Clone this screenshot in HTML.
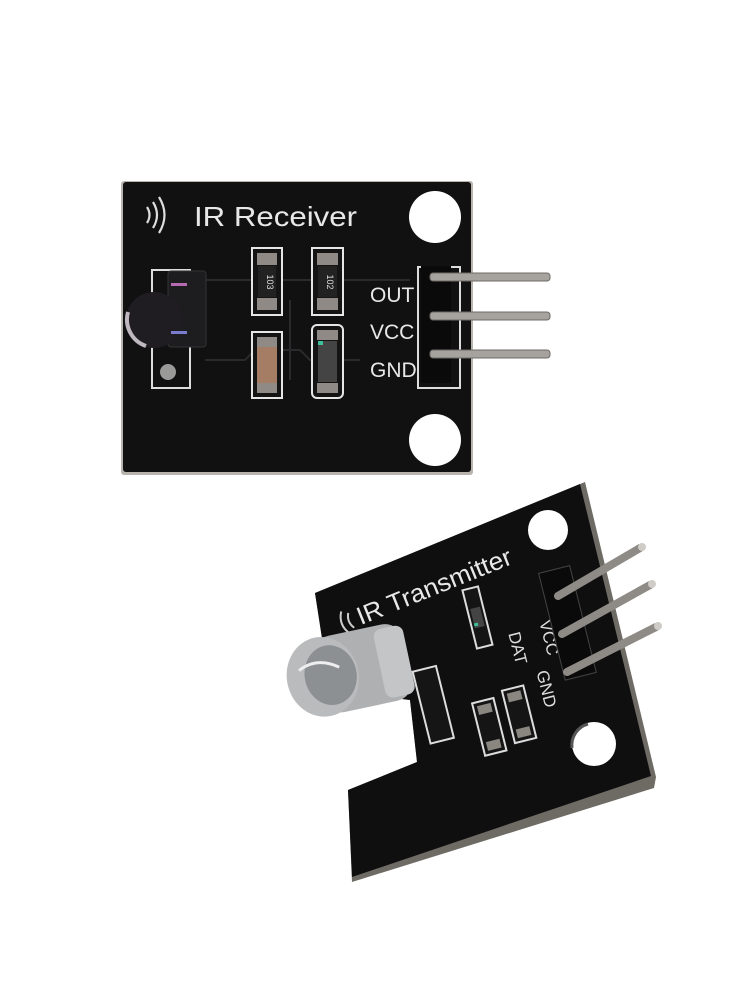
<!DOCTYPE html>
<html><head><meta charset="utf-8"><style>
html,body{margin:0;padding:0;background:#fff;}
svg{display:block;}
text{font-family:"Liberation Sans",sans-serif;}
</style></head><body>
<svg width="750" height="1000" viewBox="0 0 750 1000" xmlns="http://www.w3.org/2000/svg">
<rect width="750" height="1000" fill="#fff"/>
<!-- Receiver board -->
<rect x="121" y="181" width="352" height="294" rx="3" fill="#b9b4ad"/>
<rect x="123" y="182" width="348" height="290" rx="3" fill="#111112"/>
<circle cx="435" cy="217" r="26" fill="#fff"/>
<circle cx="435" cy="440" r="26" fill="#fff"/>
<g fill="none" stroke="#ddd" stroke-width="2.2">
<path d="M147 207 q5 8 0 16"/><path d="M153 202 q8 13 0 26"/><path d="M159 197 q11 18 0 36"/>
</g>
<text x="194" y="226" font-size="28" fill="#e8e8e8" textLength="163" lengthAdjust="spacingAndGlyphs">IR Receiver</text>
<g fill="none" stroke="#2a2a2c" stroke-width="2">
<path d="M205 280 H410"/><path d="M205 360 H245 l10 -10 H300 l10 10 H360"/><path d="M290 300 v80"/>
</g>
<!-- sensor -->
<rect x="152" y="270" width="38" height="118" fill="none" stroke="#ddd" stroke-width="2"/>
<rect x="168" y="271" width="38" height="76" rx="3" fill="#1d1d20" stroke="#333" stroke-width="1"/>
<circle cx="154" cy="320" r="28" fill="#1f1d21"/>
<path d="M128 312 a28 28 0 0 0 18 34" fill="none" stroke="#bfb8c0" stroke-width="4"/>
<rect x="171" y="283" width="16" height="3" fill="#b46bb0"/>
<rect x="171" y="331" width="16" height="3" fill="#7a7cd0"/>
<circle cx="168" cy="372" r="8" fill="#9a9a98"/>
<!-- resistors -->
<g stroke="#e6e6e6" stroke-width="2" fill="#141414">
<rect x="252" y="248" width="30" height="67"/>
<rect x="312" y="248" width="31" height="67"/>
<rect x="252" y="332" width="30" height="66"/>
<rect x="312" y="325" width="31" height="73" rx="5"/>
</g>
<g fill="#8f8a85">
<rect x="257" y="253" width="20" height="12"/><rect x="257" y="298" width="20" height="12"/>
<rect x="317" y="253" width="21" height="12"/><rect x="317" y="298" width="21" height="12"/>
<rect x="257" y="337" width="20" height="10"/><rect x="257" y="383" width="20" height="10"/>
<rect x="317" y="330" width="21" height="10"/><rect x="317" y="383" width="21" height="10"/>
</g>
<rect x="258" y="266" width="18" height="31" fill="#222"/>
<rect x="318" y="266" width="19" height="31" fill="#222"/>
<text x="267" y="282" font-size="9" fill="#ddd" transform="rotate(90 267 282)" text-anchor="middle">103</text>
<text x="327" y="282" font-size="9" fill="#ddd" transform="rotate(90 327 282)" text-anchor="middle">102</text>
<rect x="257" y="347" width="20" height="36" fill="#a57c64"/>
<rect x="318" y="341" width="19" height="41" fill="#444"/>
<rect x="318" y="341" width="5" height="4" fill="#3fbf9a"/>
<text x="370" y="302" font-size="21" fill="#e8e8e8">OUT</text>
<text x="370" y="339" font-size="21" fill="#e8e8e8">VCC</text>
<text x="370" y="377" font-size="21" fill="#e8e8e8">GND</text>
<rect x="418" y="267" width="42" height="121" fill="none" stroke="#ddd" stroke-width="2"/>
<rect x="421" y="266" width="30" height="117" fill="#0a0a0a"/>
<g fill="#a6a29d" stroke="#6e6b68" stroke-width="1">
<rect x="430" y="273" width="120" height="8" rx="3"/>
<rect x="430" y="312" width="120" height="8" rx="3"/>
<rect x="430" y="350" width="120" height="8" rx="3"/>
</g>
<!-- Transmitter board -->
<polygon points="315,593 585,482 656,777 654,788 352,882 348,790 417,762 410,700 330,690" fill="#6e6b65"/>
<polygon points="315,593 580,484 651,776 352,877 348,790 417,762 410,700 330,690" fill="#0f0f10"/>
<circle cx="548" cy="530" r="20" fill="#fff"/>
<circle cx="594" cy="744" r="22" fill="#fff"/>
<path d="M572 748 a22 22 0 0 1 16 -24" fill="none" stroke="#555" stroke-width="3"/>
<g transform="rotate(-22 420 585)">
<text x="350" y="600" font-size="25" fill="#e8e8e8" textLength="165" lengthAdjust="spacingAndGlyphs">IR Transmitter</text>
<g fill="none" stroke="#ccc" stroke-width="2"><path d="M343 584 q-5 8 0 16"/><path d="M337 580 q-8 12 0 24"/></g>
</g>
<g transform="rotate(-14 500 650)">
<rect x="478" y="583" width="16" height="60" fill="#151515" stroke="#ddd" stroke-width="2"/>
<rect x="481" y="603" width="10" height="20" fill="#444"/>
<rect x="481" y="618" width="4" height="3" fill="#3fbf9a"/>
<rect x="460" y="695" width="22" height="54" fill="#151515" stroke="#ddd" stroke-width="2"/>
<rect x="492" y="690" width="22" height="54" fill="#151515" stroke="#ddd" stroke-width="2"/>
<rect x="464" y="699" width="14" height="9" fill="#8a8680"/><rect x="464" y="736" width="14" height="9" fill="#8a8680"/>
<rect x="496" y="694" width="14" height="9" fill="#8a8680"/><rect x="496" y="731" width="14" height="9" fill="#8a8680"/>
<text x="512" y="636" font-size="17" fill="#ddd" transform="rotate(90 512 636)">DAT</text>
<text x="545" y="632" font-size="17" fill="#ddd" transform="rotate(90 545 632)">VCC</text>
<text x="530" y="680" font-size="17" fill="#ddd" transform="rotate(90 530 680)">GND</text>
<rect x="410" y="650" width="24" height="74" fill="#151515" stroke="#ddd" stroke-width="2"/>
<rect x="556" y="585" width="32" height="110" fill="#0a0a0a" stroke="#444" stroke-width="1"/>
</g>
<g stroke="#8e8a85" stroke-width="8" stroke-linecap="round">
<line x1="558" y1="596" x2="640" y2="548"/>
<line x1="562" y1="634" x2="650" y2="585"/>
<line x1="567" y1="672" x2="656" y2="627"/>
</g>
<g fill="#cfcbc6"><circle cx="642" cy="547" r="4"/><circle cx="652" cy="584" r="4"/><circle cx="658" cy="626" r="4"/></g>
<g transform="rotate(-12 350 670)">
<rect x="318" y="632" width="90" height="78" rx="18" fill="#aeb0b2"/>
<ellipse cx="322" cy="671" rx="36" ry="40" fill="#b9bbbc"/>
<ellipse cx="330" cy="671" rx="26" ry="30" fill="#8d9093"/>
<rect x="380" y="636" width="30" height="70" rx="8" fill="#c4c5c6"/>
<path d="M300 660 q20 -10 40 5" stroke="#eee" stroke-width="3" fill="none"/>
</g>
</svg>
</body></html>
